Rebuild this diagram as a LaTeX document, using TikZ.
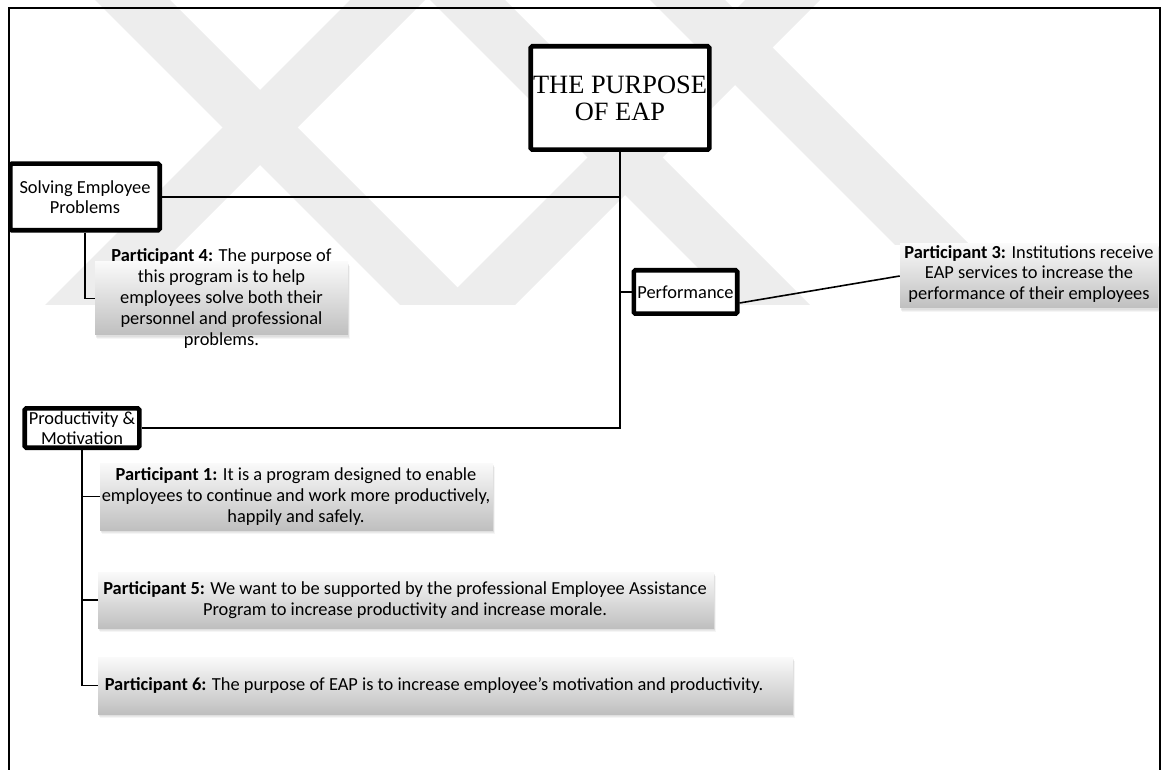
\documentclass[tikz,border=0pt]{standalone}
\usepackage{fontspec}
\setmainfont{Carlito}
\newfontfamily\serifhead{Liberation Serif}
\usetikzlibrary{shadows}
\begin{document}
\begin{tikzpicture}[x=0.75pt,y=-0.75pt,
  thickbox/.style={draw=black, line width=3.4pt, rounded corners=1.2pt, fill=white,
    inner sep=0pt, align=center, font=\fontsize{13.8}{15}\selectfont},
  quotebox/.style={shade, top color=black!2, bottom color=black!25, inner sep=0pt,
    drop shadow={opacity=0.10, shadow xshift=0.6pt, shadow yshift=-1.2pt},
    drop shadow={opacity=0.10, shadow xshift=1.0pt, shadow yshift=-2.2pt},
    drop shadow={opacity=0.08, shadow xshift=1.4pt, shadow yshift=-3.2pt}},
  quotetext/.style={align=center, inner sep=0pt, font=\fontsize{13.8}{15.6}\selectfont},
  link/.style={draw=black, line width=1.2pt},
  wmband/.style={fill=black!7, draw=none}
]
\useasboundingbox (0,0) rectangle (1165,770);

% faint emblem in the background: diagonal bands
\fill[wmband] (95,0) -- (170,0) -- (475,305) -- (400,305) -- cycle;
\fill[wmband] (45,305) -- (120,305) -- (425,0) -- (350,0) -- cycle;
\fill[wmband] (430,0) -- (505,0) -- (810,305) -- (735,305) -- cycle;
\fill[wmband] (440,305) -- (515,305) -- (820,0) -- (745,0) -- cycle;
\fill[wmband] (650,0) -- (725,0) -- (970,245) -- (895,245) -- cycle;

% page frame
\draw[line width=1.1pt] (9,770) -- (9,8) -- (1160,8) -- (1160,770);

% main boxes
\node[thickbox, minimum width=133.9pt, minimum height=77.6pt,
      font=\serifhead\fontsize{19.8}{20.3}\selectfont] (title) at (620,98) {THE PURPOSE\\OF EAP};
\node[thickbox, minimum width=112.1pt, minimum height=49.9pt] (se) at (85,197) {Solving Employee\\Problems};
\node[thickbox, minimum width=77.6pt, minimum height=32.6pt] (perf) at (685.5,292) {Performance};
\node[thickbox, minimum width=85.9pt, minimum height=29.6pt] (pm) at (82,428) {Productivity \&\\Motivation};

% participant quotes
\node[quotebox, minimum width=189.75pt, minimum height=54.75pt] (p4) at (221.5,298.5) {};
\node[quotetext] (p4t) at (221.5,298.5) {\textbf{Participant 4:} The purpose of\\this program is to help\\employees solve both their\\personnel and professional\\problems.};

\node[quotebox, minimum width=193.5pt, minimum height=48pt] (p3) at (1029,276) {};
\node[quotetext] (p3t) at (1029,274) {\textbf{Participant 3:} Institutions receive\\EAP services to increase the\\performance of their employees};

\node[quotebox, minimum width=294.75pt, minimum height=50.25pt] (p1) at (296.5,496.5) {};
\node[quotetext] (p1t) at (296,496.5) {\textbf{Participant 1:} It is a program designed to enable\\employees to continue and work more productively,\\happily and safely.};

\node[quotebox, minimum width=462pt, minimum height=42pt] (p5) at (406,600) {};
\node[quotetext] (p5t) at (405,600) {\textbf{Participant 5:} We want to be supported by the professional Employee Assistance\\Program to increase productivity and increase morale.};

\node[quotebox, minimum width=521.25pt, minimum height=42.75pt] (p6) at (445.5,685.5) {};
\node[quotetext] (p6t) at (434,685.5) {\textbf{Participant 6:} The purpose of EAP is to increase employee’s motivation and productivity.};

% connectors
\coordinate (jse) at (620,197);
\coordinate (jpm) at (620,428);
\draw[link] (title.south) -- (jpm) -- (pm.east);
\draw[link] (se.east) -- (jse);
\draw[link] (perf.west) -- (perf.west -| title.south);
\draw[link] ([yshift=-8.25pt]perf.east) -- (p3.west);
\draw[link] (se.south) |- (p4.west);
\draw[link] (pm.south) |- (p1.west);
\draw[link] (pm.south) |- (p5.west);
\draw[link] (pm.south) |- (p6.west);
\end{tikzpicture}
\end{document}
